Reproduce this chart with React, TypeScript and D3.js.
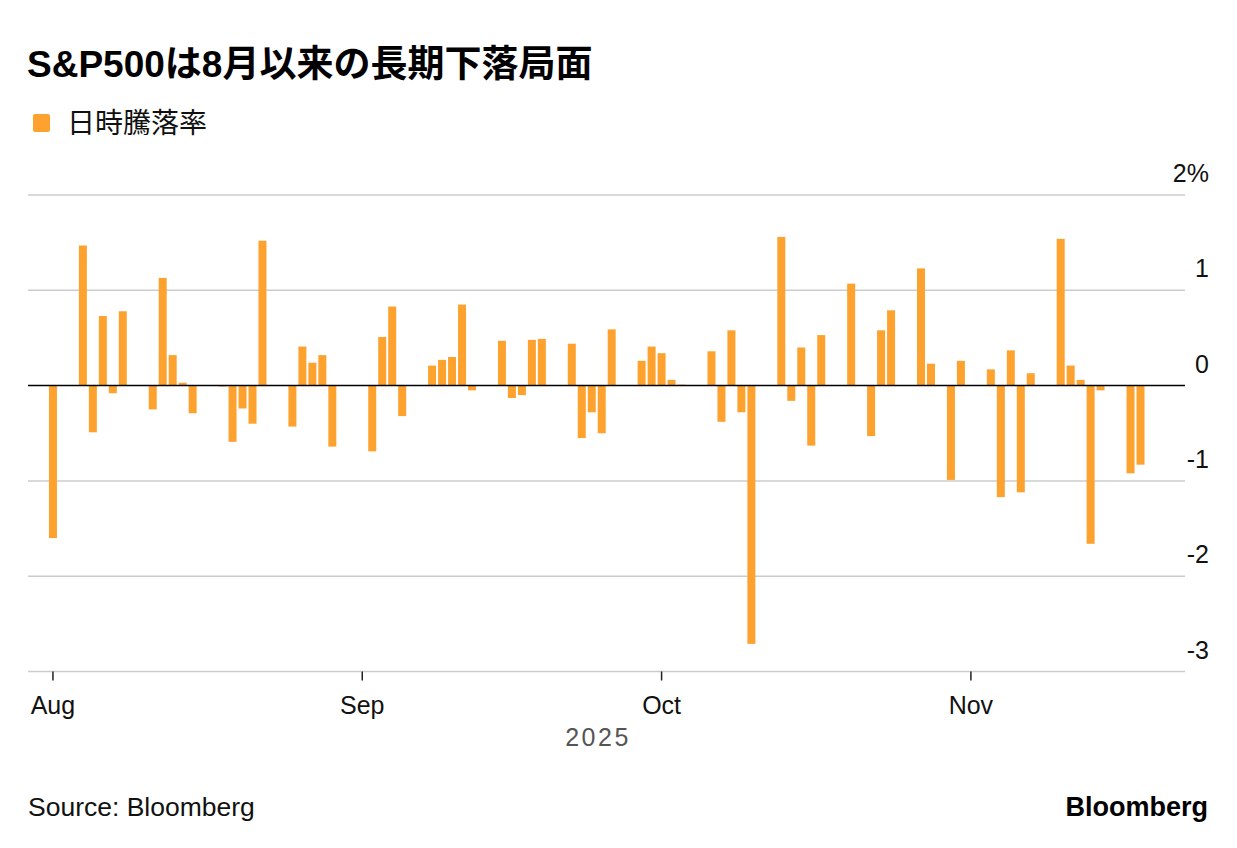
import React, { useEffect } from "react";
import * as d3 from "d3";

// S&P 500 daily % change, Aug 1 – Nov 18 2025
const dates = [
  "2025-08-01", "2025-08-04", "2025-08-05", "2025-08-06", "2025-08-07", "2025-08-08",
  "2025-08-11", "2025-08-12", "2025-08-13", "2025-08-14", "2025-08-15",
  "2025-08-18", "2025-08-19", "2025-08-20", "2025-08-21", "2025-08-22",
  "2025-08-25", "2025-08-26", "2025-08-27", "2025-08-28", "2025-08-29",
  "2025-09-02", "2025-09-03", "2025-09-04", "2025-09-05",
  "2025-09-08", "2025-09-09", "2025-09-10", "2025-09-11", "2025-09-12",
  "2025-09-15", "2025-09-16", "2025-09-17", "2025-09-18", "2025-09-19",
  "2025-09-22", "2025-09-23", "2025-09-24", "2025-09-25", "2025-09-26",
  "2025-09-29", "2025-09-30", "2025-10-01", "2025-10-02", "2025-10-03",
  "2025-10-06", "2025-10-07", "2025-10-08", "2025-10-09", "2025-10-10",
  "2025-10-13", "2025-10-14", "2025-10-15", "2025-10-16", "2025-10-17",
  "2025-10-20", "2025-10-21", "2025-10-22", "2025-10-23", "2025-10-24",
  "2025-10-27", "2025-10-28", "2025-10-29", "2025-10-30", "2025-10-31",
  "2025-11-03", "2025-11-04", "2025-11-05", "2025-11-06", "2025-11-07",
  "2025-11-10", "2025-11-11", "2025-11-12", "2025-11-13", "2025-11-14",
  "2025-11-17", "2025-11-18",
];

const changes = [
  -1.6, 1.47, -0.49, 0.73, -0.08, 0.78,
  -0.25, 1.13, 0.32, 0.03, -0.29,
  -0.01, -0.59, -0.24, -0.4, 1.52,
  -0.43, 0.41, 0.24, 0.32, -0.64,
  -0.69, 0.51, 0.83, -0.32,
  0.21, 0.27, 0.3, 0.85, -0.05,
  0.47, -0.13, -0.1, 0.48, 0.49,
  0.44, -0.55, -0.28, -0.5, 0.59,
  0.26, 0.41, 0.34, 0.06, 0.01,
  0.36, -0.38, 0.58, -0.28, -2.71,
  1.56, -0.16, 0.4, -0.63, 0.53,
  1.07, 0.0, -0.53, 0.58, 0.79,
  1.23, 0.23, 0.0, -0.99, 0.26,
  0.17, -1.17, 0.37, -1.12, 0.13,
  1.54, 0.21, 0.06, -1.66, -0.05,
  -0.92, -0.83,
];

const yTicks = [2, 1, 0, -1, -2, -3];
const monthTicks = ["2025-08-01", "2025-09-01", "2025-10-01", "2025-11-01"];

const title = "S&P500は8月以来の長期下落局面";
const legendLabel = "日時騰落率";
const yearLabel = "2025";
const source = "Source: Bloomberg";
const brand = "Bloomberg";

const W = 1237;
const H = 848;
const ORANGE = "#fda22f";
const FONT = "'Liberation Sans', Arial, 'Noto Sans CJK JP', sans-serif";
const CJK = "'Liberation Sans', 'Noto Sans CJK JP', sans-serif";

const parse = d3.timeParse("%Y-%m-%d");

export default function App() {
  useEffect(() => {
    document.body.style.margin = "0";
  }, []);

  const left = 28;
  const right = 1185;
  const x = d3
    .scaleTime()
    .domain([new Date(2025, 6, 29, 12), new Date(2025, 10, 22, 11)])
    .range([left, right]);
  const y = d3.scaleLinear().domain([-3, 2]).range([671.5, 195]);

  const data = dates.map((d, i) => ({ date: parse(d) as Date, value: changes[i] }));
  const barW = 8;
  const fmt = d3.timeFormat("%b");

  return (
    <svg width={W} height={H} style={{ display: "block", background: "#fff" }}>
      <text x={27} y={77} fontFamily={CJK} fontWeight={700} fontSize={37} fill="#000">
        {title}
      </text>

      <rect x={33} y={114} width={17} height={18} rx={2} fill={ORANGE} />
      <text x={67} y={133} fontFamily={CJK} fontSize={28} fill="#111">
        {legendLabel}
      </text>

      {/* gridlines */}
      {yTicks.map((t) => (
        <g key={t}>
          {t !== 0 && (
            <line x1={left} x2={right} y1={y(t)} y2={y(t)} stroke="#cccccc" strokeWidth={1.5} />
          )}
          <text
            x={1209}
            y={y(t) - 13}
            textAnchor="end"
            fontFamily={FONT}
            fontSize={25}
            fill="#111"
          >
            {t === 2 ? "2%" : String(t)}
          </text>
        </g>
      ))}

      {/* bars */}
      {data.map((d) => (
        <rect
          key={+d.date}
          x={x(d.date) - barW / 2}
          y={y(Math.max(0, d.value))}
          width={barW}
          height={Math.abs(y(d.value) - y(0))}
          fill={ORANGE}
        />
      ))}

      <line x1={left} x2={right} y1={y(0)} y2={y(0)} stroke="#000" strokeWidth={1.5} />

      {/* x axis ticks */}
      {monthTicks.map((m) => {
        const dt = parse(m) as Date;
        const px = x(dt);
        return (
          <g key={m}>
            <line x1={px} x2={px} y1={y(-3)} y2={y(-3) + 9} stroke="#222" strokeWidth={1.5} />
            <text x={px} y={714} textAnchor="middle" fontFamily={FONT} fontSize={25} fill="#111">
              {fmt(dt)}
            </text>
          </g>
        );
      })}

      <text
        x={598}
        y={746}
        textAnchor="middle"
        fontFamily={FONT}
        fontSize={25}
        letterSpacing={2.5}
        fill="#555"
      >
        {yearLabel}
      </text>

      <text x={28} y={816} fontFamily={FONT} fontSize={26.5} fill="#111">
        {source}
      </text>
      <text x={1208} y={816} textAnchor="end" fontFamily={FONT} fontWeight={700} fontSize={27} fill="#000">
        {brand}
      </text>
    </svg>
  );
}
